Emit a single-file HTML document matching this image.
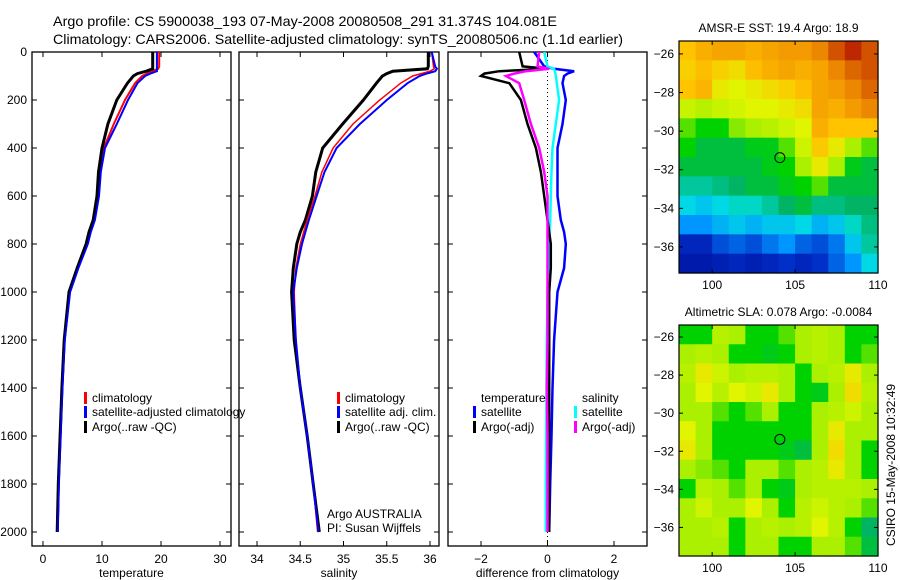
<!DOCTYPE html>
<html><head><meta charset="utf-8"><style>
html,body{margin:0;padding:0;background:#fff;}
svg{display:block;font-family:"Liberation Sans",sans-serif;}
</style></head><body>
<svg id="chart" width="900" height="580" viewBox="0 0 900 580">
<rect width="900" height="580" fill="#fff"/>
<text x="53" y="26" font-size="14" textLength="504" lengthAdjust="spacingAndGlyphs">Argo profile: CS 5900038_193 07-May-2008 20080508_291 31.374S 104.081E</text>
<text x="53" y="44" font-size="14" textLength="570" lengthAdjust="spacingAndGlyphs">Climatology: CARS2006. Satellite-adjusted climatology: synTS_20080506.nc (1.1d earlier)</text>
<g id="g"></g>
</svg>
<script>
// ---------- data ----------
const depthT = [0,60,70,80,90,100,130,200,300,400,500,600,700,750,800,900,1000,1200,1400,1600,1800,2000];
const tempClim = [19.7,19.7,19.5,18.5,17.6,16.8,15.6,13.9,12.0,10.3,9.6,9.3,8.6,7.9,7.3,5.8,4.5,3.6,3.2,2.9,2.6,2.4];
const tempSat  = [19.3,19.3,19.3,19.3,18.2,17.3,16.0,14.4,12.5,10.5,9.8,9.5,8.8,8.1,7.6,6.0,4.6,3.7,3.3,3.0,2.7,2.5];
const tempArgo = [18.6,18.6,18.6,17.5,16.0,15.3,14.3,12.5,11.0,10.0,9.4,9.15,8.5,7.8,7.3,5.8,4.4,3.6,3.2,2.9,2.6,2.4];
const salClim = [36.02,36.04,36.05,36.0,35.9,35.80,35.66,35.42,35.11,34.88,34.75,34.67,34.58,34.54,34.50,34.45,34.43,34.45,34.5,34.58,34.65,34.70];
const salSat  = [36.02,36.06,36.08,36.06,35.96,35.88,35.74,35.50,35.19,34.92,34.78,34.69,34.60,34.56,34.52,34.46,34.42,34.45,34.5,34.58,34.65,34.71];
const salArgo = [35.98,35.98,35.97,35.57,35.5,35.45,35.38,35.23,34.99,34.76,34.68,34.64,34.56,34.50,34.46,34.42,34.40,34.43,34.5,34.58,34.65,34.72];
const diffTSat  = [-0.4,-0.1,0.2,0.8,0.6,0.5,0.45,0.55,0.45,0.3,0.3,0.3,0.4,0.5,0.55,0.5,0.3,0.2,0.15,0.12,0.08,0.05];
const diffTArgo = [-0.85,-0.75,0.0,-1.45,-1.9,-2.0,-1.15,-0.8,-0.6,-0.35,-0.2,-0.1,0.0,0.05,0.1,0.1,0.05,0.05,0.05,0.05,0.05,0.05];
const diffSSat  = [-0.1,0.0,0.2,0.22,0.24,0.25,0.28,0.35,0.25,0.15,0.12,0.1,0.08,0.06,0.05,0.03,0.0,-0.02,-0.03,-0.04,-0.05,-0.05];
const diffSArgo = [-0.25,-0.3,0.05,-0.65,-1.0,-1.25,-0.85,-0.7,-0.5,-0.25,-0.1,0.0,0.0,0.0,0.0,0.0,0.0,0.0,-0.02,0.0,0.0,0.0];
const depthTicks = [0,200,400,600,800,1000,1200,1400,1600,1800,2000];
const tempTicks = [0,10,20,30];
const salTicks = [34,34.5,35,35.5,36];
const diffTicks = [-2,0,2];
const lonTicks = [100,105,110];
const latTicks = [-26,-28,-30,-32,-34,-36];
const sstGrid = [
[0.76,0.8,0.82,0.82,0.8,0.82,0.84,0.84,0.87,0.92,0.96,0.92],
[0.74,0.77,0.74,0.72,0.77,0.8,0.82,0.8,0.82,0.87,0.9,0.92],
[0.76,0.79,0.7,0.68,0.7,0.72,0.74,0.77,0.82,0.84,0.87,0.9],
[0.64,0.62,0.64,0.66,0.68,0.68,0.7,0.72,0.82,0.8,0.84,0.87],
[0.55,0.5,0.5,0.58,0.6,0.62,0.65,0.68,0.8,0.76,0.76,0.76],
[0.5,0.45,0.45,0.45,0.48,0.48,0.55,0.65,0.75,0.7,0.6,0.55],
[0.45,0.45,0.45,0.45,0.45,0.48,0.5,0.6,0.7,0.6,0.48,0.45],
[0.38,0.38,0.4,0.42,0.45,0.45,0.48,0.5,0.55,0.45,0.45,0.45],
[0.32,0.3,0.32,0.35,0.35,0.38,0.42,0.45,0.4,0.4,0.42,0.42],
[0.25,0.25,0.28,0.3,0.28,0.3,0.3,0.32,0.28,0.3,0.35,0.4],
[0.12,0.12,0.18,0.2,0.18,0.22,0.25,0.2,0.18,0.22,0.3,0.38],
[0.08,0.08,0.1,0.12,0.1,0.12,0.15,0.12,0.15,0.2,0.25,0.32]];
const slaGrid = [
[0.5,0.5,0.62,0.6,0.5,0.5,0.55,0.6,0.62,0.6,0.5,0.5],
[0.6,0.62,0.6,0.5,0.5,0.48,0.5,0.6,0.62,0.6,0.5,0.55],
[0.62,0.7,0.65,0.6,0.62,0.62,0.6,0.5,0.6,0.62,0.7,0.6],
[0.6,0.68,0.62,0.68,0.65,0.7,0.6,0.5,0.48,0.6,0.72,0.62],
[0.6,0.6,0.55,0.5,0.55,0.6,0.5,0.5,0.6,0.62,0.65,0.6],
[0.68,0.6,0.5,0.5,0.5,0.5,0.5,0.5,0.6,0.7,0.6,0.6],
[0.7,0.6,0.5,0.5,0.5,0.5,0.48,0.45,0.6,0.72,0.6,0.5],
[0.6,0.58,0.55,0.5,0.6,0.6,0.55,0.6,0.62,0.7,0.6,0.5],
[0.5,0.62,0.6,0.55,0.6,0.5,0.48,0.6,0.62,0.62,0.62,0.6],
[0.6,0.65,0.6,0.6,0.68,0.6,0.5,0.62,0.65,0.62,0.6,0.55],
[0.6,0.6,0.62,0.5,0.6,0.62,0.6,0.62,0.68,0.62,0.5,0.42],
[0.6,0.6,0.6,0.5,0.6,0.6,0.5,0.5,0.6,0.6,0.55,0.45]];
const argoLon = 104.081, argoLat = -31.374;

// ---------- helpers ----------
const NS = "http://www.w3.org/2000/svg";
const G = document.getElementById('g');
function mk(tag, attrs, parent){ const e=document.createElementNS(NS,tag); for(const k in attrs) e.setAttribute(k,attrs[k]); (parent||G).appendChild(e); return e; }
function txt(x,y,s,size,anchor,parent){ const t=mk('text',{x:x,y:y,'font-size':size||12,'text-anchor':anchor||'start'},parent); t.textContent=s; return t; }

const PT=52, PB=546;
const yD = d => PT + d*0.24;
function linX(v0,p0,v1,p1){ return v => p0 + (v-v0)*(p1-p0)/(v1-v0); }

function panel(name, L, R, xf, ticks, label, withY){
  const g = mk('g',{});  
  const f = mk('rect',{x:L,y:PT,width:R-L,height:PB-PT,fill:'none',stroke:'#000','stroke-width':1.3},g);
   
  ticks.forEach(v=>{ const x=xf(v);
    mk('line',{x1:x,x2:x,y1:PB,y2:PB-5,stroke:'#000'},g); mk('line',{x1:x,x2:x,y1:PT,y2:PT+5,stroke:'#000'},g);
    const t=txt(x,563,String(v).replace('-','\u2212'),12,'middle',g);
     
  });
  depthTicks.forEach(d=>{ const y=yD(d);
    mk('line',{x1:L,x2:L+5,y1:y,y2:y,stroke:'#000'},g); mk('line',{x1:R,x2:R-5,y1:y,y2:y,stroke:'#000'},g);
    if(withY){ const t=txt(L-5,y+4,String(d),12,'end',g);
        }
  });
  const xl = txt((L+R)/2,577,label,12,'middle',g);
   
  return g;
}
function series(g, xf, vals, color, w, nm){
  const pts = vals.map((v,i)=>xf(v).toFixed(1)+','+yD(depthT[i]).toFixed(1)).join(' ');
  const p = mk('polyline',{points:pts,fill:'none',stroke:color,'stroke-width':w,'stroke-linejoin':'miter'},g);
   
}
function legend(g, x, y, color, label, nm){
  if(color){ const b=mk('rect',{x:x,y:y-10,width:3,height:12,fill:color},g);
      }
  const t=txt(x+8,y,label,12,'start',g);
   
}

// ---------- temperature panel ----------
const xT = linX(0,43,30,220);
const g1 = panel('temperature',32,231,xT,tempTicks,'temperature',true);
series(g1,xT,tempClim,'#f00',2,'temp-climatology-line');
series(g1,xT,tempSat,'#00f',2,'temp-satellite-line');
series(g1,xT,tempArgo,'#000',3,'temp-argo-line');
series(g1,xT,tempSat,'#00f',1.5,'temp-satellite-line-top');
legend(g1,84,402,'#f00','climatology','legend-climatology');
legend(g1,84,416,'#00f','satellite-adjusted climatology','legend-satellite-adjusted');
legend(g1,84,431,'#000','Argo(..raw -QC)','legend-argo');

// ---------- salinity panel ----------
const xS = linX(34,257,36,430);
const g2 = panel('salinity',239,439,xS,salTicks,'salinity',false);
series(g2,xS,salArgo,'#000',3,'sal-argo-line');
series(g2,xS,salClim,'#f00',1.5,'sal-climatology-line');
series(g2,xS,salSat,'#00f',2,'sal-satellite-line');
legend(g2,337,402,'#f00','climatology','legend-sal-climatology');
legend(g2,337,416,'#00f','satellite adj. clim.','legend-sal-satellite');
legend(g2,337,431,'#000','Argo(..raw -QC)','legend-sal-argo');
const a1=txt(327,518,'Argo AUSTRALIA',12,'start',g2);  
const a2=txt(327,532,'PI: Susan Wijffels',12,'start',g2);  

// ---------- difference panel ----------
const xDf = linX(-2,481,2,614);
const g3 = panel('difference',448,647,xDf,diffTicks,'difference from climatology',false);
const zl = mk('line',{x1:xDf(0),x2:xDf(0),y1:PT,y2:PB,stroke:'#000','stroke-dasharray':'1,3'},g3);
 
series(g3,xDf,diffTSat,'#00f',2.5,'diff-temp-satellite-line');
series(g3,xDf,diffSSat,'#0ff',2.5,'diff-sal-satellite-line');
series(g3,xDf,diffTArgo,'#000',2.5,'diff-temp-argo-line');
series(g3,xDf,diffSArgo,'#f0f',2.5,'diff-sal-argo-line');
legend(g3,473,402,null,'temperature','legend-temperature-header');
legend(g3,473,416,'#00f','satellite','legend-temp-satellite');
legend(g3,473,431,'#000','Argo(-adj)','legend-temp-argo');
legend(g3,574,402,null,'salinity','legend-salinity-header');
legend(g3,574,416,'#0ff','satellite','legend-sal-satellite-diff');
legend(g3,574,431,'#f0f','Argo(-adj)','legend-sal-argo-diff');

// ---------- maps ----------
const stops=[[0,[0,0,140]],[0.15,[0,48,200]],[0.25,[0,150,255]],[0.33,[0,225,225]],[0.42,[0,180,100]],[0.5,[0,210,0]],[0.6,[170,240,0]],[0.68,[225,245,0]],[0.76,[255,195,0]],[0.86,[240,145,0]],[0.96,[190,40,0]],[1,[160,0,0]]];
function cmap(v){ for(let i=1;i<stops.length;i++){ if(v<=stops[i][0]){ const a=stops[i-1],b=stops[i],t=(v-a[0])/(b[0]-a[0]);
  const c=a[1].map((x,j)=>Math.round(x+(b[1][j]-x)*t)); return 'rgb('+c.join(',')+')'; } } return 'rgb(160,0,0)'; }
function map(name, grid, T, B, title, latTop, latBot){
  const L=679,R=878;
  const g=mk('g',{});  
  const xm=linX(98,L,110,R), ym=linX(latTop,T,latBot,B);
  const n=grid.length, m=grid[0].length, cw=(R-L)/m, ch=(B-T)/n;
  grid.forEach((row,i)=>row.forEach((v,j)=>{
    const c=mk('rect',{x:(L+j*cw).toFixed(2),y:(T+i*ch).toFixed(2),width:(cw+0.6).toFixed(2),height:(ch+0.6).toFixed(2),fill:cmap(v)},g);
     
  }));
  mk('rect',{x:L,y:T,width:R-L,height:B-T,fill:'none',stroke:'#000','stroke-width':1.2},g);
  lonTicks.forEach(v=>{ const x=xm(v); mk('line',{x1:x,x2:x,y1:B,y2:B-4,stroke:'#000'},g); mk('line',{x1:x,x2:x,y1:T,y2:T+4,stroke:'#000'},g);
    const t=txt(x,B+16,String(v),12,'middle',g);   });
  latTicks.forEach(v=>{ const y=ym(v); mk('line',{x1:L,x2:L+4,y1:y,y2:y,stroke:'#000'},g); mk('line',{x1:R,x2:R-4,y1:y,y2:y,stroke:'#000'},g);
    const t=txt(L-5,y+4,'\u2212'+Math.abs(v),12,'end',g);   });
  const mkr=mk('circle',{cx:xm(argoLon),cy:ym(argoLat),r:5,fill:'none',stroke:'#000','stroke-width':1},g);
   
  const tt=txt((L+R)/2,T-9,title,12,'middle',g);  
}
map('sst-map',sstGrid,41,273,'AMSR-E SST: 19.4 Argo: 18.9',-25.33,-37.35);
map('sla-map',slaGrid,325,556,'Altimetric SLA: 0.078 Argo: -0.0084',-25.37,-37.5);

const cs = txt(0,0,'CSIRO 15-May-2008 10:32:49',12,'middle');
cs.setAttribute('transform','translate(895,465) rotate(-90)');
 
</script>
</body></html>
